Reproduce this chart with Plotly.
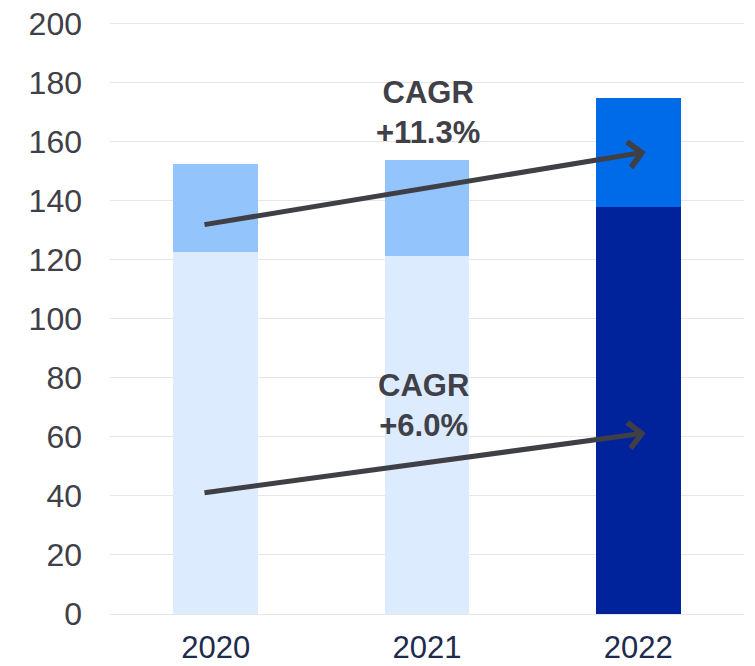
import plotly.graph_objects as go

# values
years = ["2020", "2021", "2022"]
base_vals = [122.6, 121.3, 137.7]
top_vals = [29.9, 32.5, 37.1]
base_colors = ["#DCEBFD", "#DCEBFD", "#00239C"]
top_colors = ["#94C4FC", "#94C4FC", "#006BE9"]

# CAGR arrows: (x0, y0) -> (x1, y1), x in category index units
cagr_arrows = [
    {"label": "CAGR<br>+11.3%", "x0": -0.06, "y0": 131.8, "x1": 2.035, "y1": 156.5,
     "tx": 1.005, "ty": 169.9},
    {"label": "CAGR<br>+6.0%", "x0": -0.06, "y0": 41.0, "x1": 2.035, "y1": 61.3,
     "tx": 0.985, "ty": 70.5},
]

FONT = "Arial, Liberation Sans, sans-serif"
DARK = "#404048"

fig = go.Figure()
fig.add_trace(go.Bar(x=years, y=base_vals, marker=dict(color=base_colors, line_width=0),
                     hoverinfo="y", showlegend=False))
fig.add_trace(go.Bar(x=years, y=top_vals, marker=dict(color=top_colors, line_width=0),
                     hoverinfo="y", showlegend=False))

for a in cagr_arrows:
    fig.add_annotation(x=a["x1"], y=a["y1"], ax=a["x0"], ay=a["y0"],
                       xref="x", yref="y", axref="x", ayref="y", text="",
                       showarrow=True, arrowhead=4, arrowsize=1.0, arrowwidth=5,
                       arrowcolor="#3F3F46", standoff=0)
    fig.add_annotation(x=a["tx"], y=a["ty"], xref="x", yref="y", text="<b>" + a["label"] + "</b>",
                       showarrow=False, font=dict(family=FONT, size=31, color=DARK))

# page body adds 8px around the plot div, so the figure is a bit smaller
fig.update_layout(
    barmode="stack",
    bargap=0.6,
    width=747, height=658,
    margin=dict(l=102, r=11, t=13.5, b=52),
    paper_bgcolor="white",
    plot_bgcolor="white",
    font=dict(family=FONT),
)
fig.update_xaxes(range=[-0.5, 2.5], showgrid=False, showline=False, ticks="", automargin=False,
                 tickfont=dict(family=FONT, size=31, color="#1E2A4E"), ticklabelstandoff=12,
                 ticklabeloverflow="allow")
fig.update_yaxes(range=[0, 200.5], tickvals=list(range(0, 201, 20)), showgrid=True,
                 gridcolor="#E6E6E6", gridwidth=1,
                 zeroline=True, zerolinecolor="#E6E6E6", zerolinewidth=1, showline=False,
                 automargin=False, ticks="", tickfont=dict(family=FONT, size=32, color=DARK),
                 ticklabelstandoff=27, ticklabeloverflow="allow")

fig.write_html("out.html")
